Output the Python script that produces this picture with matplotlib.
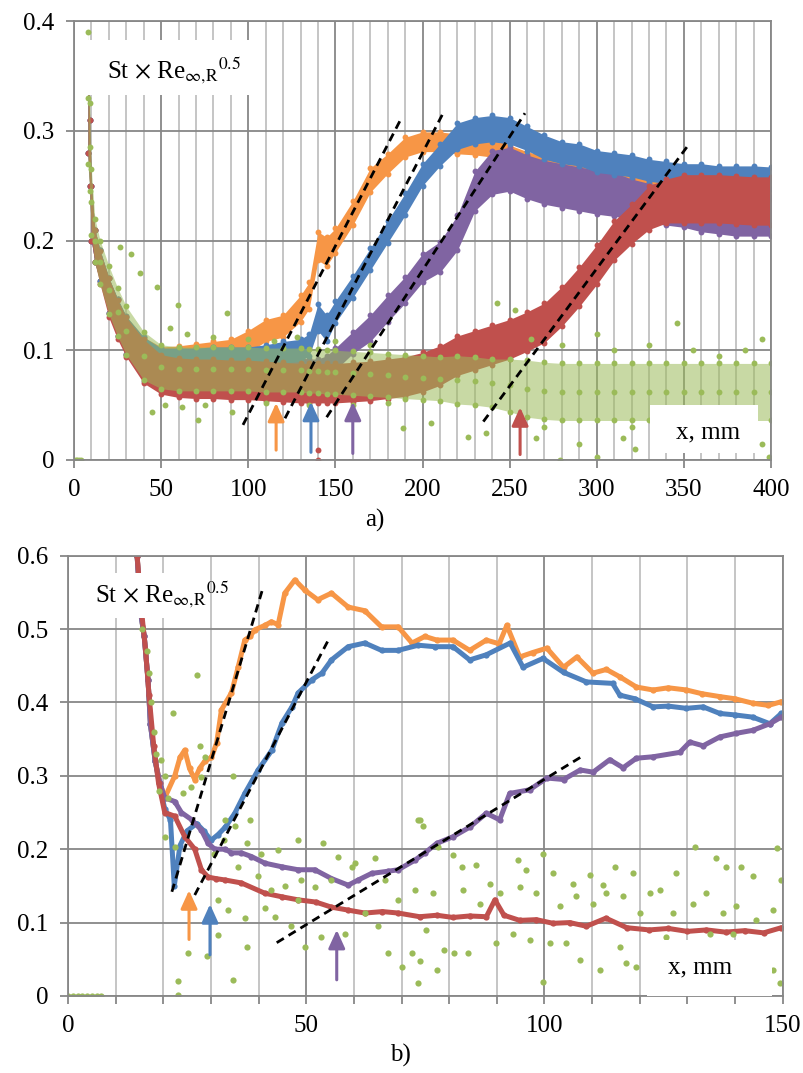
import numpy as np
import matplotlib.pyplot as plt
from matplotlib.patches import Rectangle

plt.rcParams['font.family'] = ['Liberation Serif', 'DejaVu Serif']
plt.rcParams['mathtext.fontset'] = 'stix'

BLUE, RED, GREEN, PURPLE, ORANGE = '#4F81BD', '#C0504D', '#9BBB59', '#8064A2', '#F79646'
GRID_MAJ, GRID_MIN = '#878787', '#C0C0C0'

# ---- panel a): x, mm  vs  St*Re^0.5  (mean of dot cloud and its half width)
a_x = [8, 9, 10, 12, 15, 20, 25, 30, 40, 50, 60, 70, 80, 90, 100, 110, 120, 130, 135, 140, 145, 150,
       160, 170, 180, 190, 200, 210, 220, 230, 240, 250, 260, 270, 280, 290, 300, 310, 320, 330, 340,
       350, 360, 370, 380, 390, 400]
a_orange = [0.33, 0.28, 0.225, 0.195, 0.177, 0.15, 0.13, 0.114, 0.095, 0.093, 0.094, 0.096, 0.098, 0.1,
            0.108, 0.118, 0.122, 0.138, 0.15, 0.195, 0.19, 0.2, 0.225, 0.255, 0.27, 0.285, 0.29, 0.29,
            0.288, 0.287, 0.285, 0.278, 0.272, 0.268, 0.265, 0.262, 0.258, 0.255, 0.252, 0.25, 0.249,
            0.248, 0.248, 0.248, 0.247, 0.247, 0.247]
a_blue = [0.33, 0.28, 0.225, 0.195, 0.177, 0.15, 0.13, 0.114, 0.095, 0.092, 0.092, 0.092, 0.093, 0.093,
          0.093, 0.095, 0.098, 0.1, 0.105, 0.13, 0.12, 0.135, 0.158, 0.183, 0.208, 0.233, 0.26, 0.278,
          0.295, 0.3, 0.302, 0.3, 0.293, 0.285, 0.28, 0.278, 0.272, 0.27, 0.268, 0.264, 0.262, 0.26,
          0.26, 0.258, 0.258, 0.258, 0.257]
a_purple = [0.33, 0.28, 0.225, 0.195, 0.177, 0.15, 0.13, 0.113, 0.09, 0.08, 0.078, 0.078, 0.078, 0.078,
            0.078, 0.077, 0.077, 0.077, 0.078, 0.08, 0.085, 0.092, 0.107, 0.12, 0.138, 0.155, 0.175,
            0.185, 0.207, 0.245, 0.262, 0.265, 0.258, 0.253, 0.25, 0.247, 0.244, 0.242, 0.238, 0.234,
            0.232, 0.23, 0.226, 0.224, 0.222, 0.222, 0.222]
a_red = [0.33, 0.28, 0.225, 0.195, 0.175, 0.148, 0.128, 0.112, 0.09, 0.078, 0.075, 0.074, 0.074, 0.073,
         0.073, 0.072, 0.071, 0.07, 0.07, 0.07, 0.07, 0.07, 0.071, 0.072, 0.074, 0.076, 0.08, 0.086,
         0.095, 0.1, 0.105, 0.11, 0.117, 0.125, 0.14, 0.158, 0.178, 0.2, 0.215, 0.23, 0.236, 0.238,
         0.238, 0.238, 0.237, 0.236, 0.236]
a_green = [0.33, 0.285, 0.235, 0.2, 0.18, 0.155, 0.135, 0.118, 0.095, 0.085, 0.083, 0.083, 0.083, 0.083,
           0.083, 0.082, 0.082, 0.082, 0.081, 0.081, 0.08, 0.08, 0.079, 0.078, 0.077, 0.076, 0.075,
           0.074, 0.073, 0.072, 0.07, 0.068, 0.065, 0.063, 0.062, 0.062, 0.062, 0.062, 0.062, 0.062,
           0.062, 0.062, 0.062, 0.062, 0.062, 0.062, 0.062]
a_spread_orange = [0.05, 0.03, 0.025, 0.015, 0.014, 0.016, 0.017, 0.017, 0.017, 0.01, 0.01, 0.01,
                   0.01, 0.01, 0.01, 0.01, 0.01, 0.012, 0.012, 0.013, 0.013, 0.011, 0.011, 0.011,
                   0.009, 0.009, 0.009, 0.009, 0.009, 0.009, 0.009, 0.009, 0.009, 0.009, 0.009, 0.009,
                   0.009, 0.009, 0.009, 0.009, 0.009, 0.009, 0.009, 0.009, 0.009, 0.009, 0.009]
a_spread_blue = [0.05, 0.03, 0.025, 0.015, 0.014, 0.016, 0.017, 0.017, 0.017, 0.01, 0.01, 0.01,
                 0.01, 0.01, 0.01, 0.01, 0.01, 0.01, 0.01, 0.012, 0.012, 0.01, 0.01, 0.01,
                 0.01, 0.01, 0.01, 0.01, 0.012, 0.012, 0.012, 0.012, 0.011, 0.011, 0.01, 0.01,
                 0.01, 0.01, 0.01, 0.01, 0.01, 0.01, 0.01, 0.01, 0.01, 0.01, 0.01]
a_spread_purple = [0.05, 0.03, 0.025, 0.015, 0.014, 0.016, 0.017, 0.017, 0.018, 0.016, 0.016, 0.016,
                   0.016, 0.016, 0.016, 0.016, 0.016, 0.016, 0.014, 0.012, 0.01, 0.01, 0.01, 0.012,
                   0.012, 0.012, 0.013, 0.014, 0.016, 0.018, 0.02, 0.02, 0.02, 0.02, 0.02, 0.02,
                   0.02, 0.02, 0.018, 0.018, 0.018, 0.018, 0.018, 0.018, 0.018, 0.018, 0.018]
a_spread_red = [0.05, 0.03, 0.025, 0.015, 0.015, 0.018, 0.018, 0.018, 0.02, 0.018, 0.018, 0.018,
                0.018, 0.018, 0.018, 0.018, 0.018, 0.018, 0.018, 0.018, 0.018, 0.018, 0.018, 0.018,
                0.018, 0.018, 0.018, 0.018, 0.018, 0.018, 0.018, 0.018, 0.018, 0.018, 0.018, 0.018,
                0.018, 0.018, 0.018, 0.02, 0.02, 0.022, 0.022, 0.022, 0.022, 0.022, 0.022]
a_spread_green = [0.06, 0.04, 0.03, 0.02, 0.02, 0.022, 0.022, 0.022, 0.022, 0.02, 0.02, 0.02, 0.02,
                  0.02, 0.02, 0.02, 0.02, 0.02, 0.02, 0.02, 0.02, 0.02, 0.02, 0.02, 0.02,
                  0.02, 0.02, 0.02, 0.022, 0.022, 0.022, 0.024, 0.026, 0.026, 0.026, 0.026, 0.026,
                  0.026, 0.026, 0.026, 0.026, 0.026, 0.026, 0.026, 0.026, 0.026, 0.026]
# loose green dots outside the band
a_green_out_x = [0, 1, 2, 3, 4, 26.4, 32.7, 37.9, 47.6, 59.7, 87.7, 128, 44.8, 71, 90.7, 189, 243, 253,
                 346, 279, 300, 322, 399, 205, 226, 236.6, 55, 65, 80, 100, 115, 150, 170, 52, 62, 75,
                 110, 135, 160, 180, 262, 280, 300, 310, 330, 355, 370, 385, 395, 265, 290, 315, 340,
                 360, 380, 395, 270, 320, 350]
a_green_out_y = [0, 0, 0, 0, 0, 0.194, 0.188, 0.17, 0.158, 0.141, 0.134, 0.112, 0.044, 0.036, 0.044,
                 0.029, 0.143, 0.137, 0.125, 0.0, 0.003, 0.01, 0.003, 0.034, 0.021, 0.025, 0.12, 0.115,
                 0.112, 0.11, 0.108, 0.108, 0.105, 0.05, 0.048, 0.05, 0.052, 0.05, 0.05, 0.052, 0.11,
                 0.105, 0.115, 0.1, 0.105, 0.1, 0.095, 0.1, 0.11, 0.02, 0.015, 0.02, 0.018, 0.025, 0.02,
                 0.015, 0.03, 0.03, 0.028]
a_red_out_x = [140, 140]
a_red_out_y = [0.009, 0.0]
a_fit_x = [[97.0, 188.2], [121.1, 211.8], [145.0, 258.8], [234.9, 353.5]]
a_fit_y = [[0.032, 0.3125], [0.038, 0.316], [0.039, 0.316], [0.035, 0.289]]
a_arrow_x = [116, 136, 160, 256]
a_arrow_y0 = [0.009, 0.007, 0.006, 0.005]
a_arrow_y1 = [0.052, 0.053, 0.053, 0.048]
a_arrow_c = [ORANGE, BLUE, PURPLE, RED]

# ---- panel b)
b_orange_x = [14.5, 15.3, 16, 16.8, 17.3, 18.3, 19.3, 20.3, 22.4, 23.5, 24.5, 25.5, 26.6, 27.6, 28.7,
              30.1, 31.2, 32.2, 34.3, 35.7, 37.1, 38.2, 39.2, 41.3, 42.7, 44.1, 45.5, 47.6, 49.7, 52.4,
              55.3, 58.8, 62.3, 65.8, 69.3, 72.2, 74.9, 77.4, 80.8, 84.3, 87.8, 90.5, 92.1, 94.8, 97.5,
              100.5, 104, 106.8, 110.2, 113, 115.8, 119.3, 122.8, 126, 129.8, 133, 136.8, 140, 143.7,
              147, 149.7]
b_orange_y = [0.6, 0.52, 0.49, 0.43, 0.37, 0.32, 0.29, 0.27, 0.3, 0.325, 0.335, 0.31, 0.295, 0.31, 0.32,
              0.325, 0.345, 0.39, 0.413, 0.448, 0.485, 0.49, 0.499, 0.505, 0.51, 0.506, 0.549, 0.567,
              0.553, 0.54, 0.549, 0.53, 0.525, 0.503, 0.503, 0.481, 0.49, 0.485, 0.485, 0.471, 0.485,
              0.48, 0.505, 0.462, 0.468, 0.474, 0.448, 0.462, 0.44, 0.445, 0.435, 0.421, 0.417, 0.42,
              0.417, 0.412, 0.408, 0.405, 0.399, 0.396, 0.401]
b_blue_x = [14.5, 15.3, 16, 16.8, 17.3, 18.3, 19.3, 20.3, 21.5, 22.3, 23.5, 25, 27, 28.5, 30, 31.5, 33,
            35, 37.1, 39.9, 42.8, 44.9, 47, 48.3, 51.2, 53.3, 55.3, 58.8, 62.3, 65.8, 69.3, 73.5, 77,
            80.8, 84.3, 87.8, 92.8, 95.5, 99.7, 104, 108.8, 114.3, 115.8, 119, 122.8, 126, 129.8, 133.3,
            136.8, 140, 143.7, 147.3, 149.7]
b_blue_y = [0.6, 0.52, 0.49, 0.43, 0.37, 0.32, 0.285, 0.255, 0.24, 0.15, 0.205, 0.225, 0.235, 0.225,
            0.212, 0.22, 0.23, 0.249, 0.276, 0.308, 0.335, 0.372, 0.394, 0.413, 0.431, 0.44, 0.458,
            0.476, 0.481, 0.471, 0.471, 0.478, 0.476, 0.476, 0.458, 0.465, 0.481, 0.448, 0.46, 0.441,
            0.428, 0.426, 0.41, 0.405, 0.394, 0.395, 0.392, 0.394, 0.385, 0.383, 0.38, 0.371, 0.385]
b_purple_x = [14.5, 15.3, 16, 16.8, 17.3, 18.3, 19.3, 20.3, 22.4, 23.8, 26, 28, 29.4, 30.8, 33, 34.3,
              36.4, 38.5, 41.3, 44.9, 48.3, 51.8, 55.3, 58.8, 60.9, 63.7, 67.2, 69.3, 72.8, 74.9, 77.4,
              80.8, 84.3, 87.8, 90.6, 92.7, 96.9, 100.5, 104, 107.5, 110.2, 113.7, 116.5, 119.3, 122.8,
              128.4, 130.5, 133.3, 136.8, 140.3, 143.7, 147.3, 149.7]
b_purple_y = [0.6, 0.52, 0.49, 0.43, 0.37, 0.32, 0.29, 0.27, 0.265, 0.25, 0.24, 0.226, 0.208, 0.2, 0.2,
              0.195, 0.195, 0.19, 0.181, 0.176, 0.172, 0.172, 0.16, 0.151, 0.158, 0.167, 0.17, 0.172,
              0.185, 0.195, 0.208, 0.217, 0.23, 0.249, 0.24, 0.276, 0.281, 0.297, 0.295, 0.308, 0.305,
              0.322, 0.311, 0.324, 0.326, 0.332, 0.346, 0.341, 0.353, 0.358, 0.362, 0.371, 0.38]
b_red_x = [14.5, 15.5, 16.3, 17, 18, 19, 20.3, 22.4, 24.5, 26.6, 28, 29.4, 31, 33, 36.4, 41.3, 45, 48.3,
           52, 55.3, 58.8, 62.3, 66, 69.3, 73.8, 77.4, 80.8, 84.3, 87.8, 89.6, 91.5, 94.8, 98.3, 101.8,
           105.3, 108.8, 112.9, 117.3, 122, 126, 130, 134, 138, 142, 146, 149.7]
b_red_y = [0.6, 0.52, 0.47, 0.41, 0.34, 0.29, 0.25, 0.245, 0.217, 0.2, 0.172, 0.162, 0.16, 0.158, 0.154,
           0.14, 0.135, 0.131, 0.128, 0.121, 0.117, 0.113, 0.115, 0.113, 0.108, 0.11, 0.107, 0.109,
           0.108, 0.131, 0.11, 0.103, 0.104, 0.099, 0.1, 0.095, 0.106, 0.093, 0.09, 0.092, 0.088, 0.09,
           0.087, 0.089, 0.086, 0.093]
b_green_x = [0, 1, 2, 3, 4, 5, 6, 7,
             15.5, 16.5, 17, 17.5, 18, 18.5, 19.6, 20.3, 19, 21, 27.0, 22.1, 27.7, 28.7, 34.7, 24.2,
             28, 25.9, 22.4, 20.3, 30.6, 32.8, 38.2,
             33, 35, 37.5, 40.6, 44.1, 48.3, 53.6, 56.7, 60.2, 64.4, 73.5, 74.5,
             31.5, 33.6, 37.1, 41.3, 43.4, 46.9, 49.7, 53.2, 58.1, 62.3, 65.1, 67.2, 70, 72.1, 73.5,
             25.2, 29.1, 34.7, 23.1, 23, 37.5, 31.5, 48.3, 51.8, 55.3, 59.5, 35.7, 39.9, 42.7, 45.5,
             49, 69.3, 66.5, 72.8,
             73.9, 77.6, 80.8, 82.6, 85.7, 88.5, 94.5, 96.2, 99.7, 101.8, 106, 109.5, 112.3, 114.8,
             118.6, 122.1, 127.7, 131.5, 136, 138.1, 141.2, 143.7, 148.9, 149.6,
             76.6, 82.9, 86.4, 90.6, 94.8, 98.3, 103.2, 106.7, 110.2, 113, 116.5, 120, 124.2, 127,
             131.2, 134, 137.5, 140.3, 144.5, 148,
             75.2, 79, 81.1, 83.9, 89.9, 93.4, 96.9, 101.1, 104.6, 107.4, 111.6, 115.8, 117.2, 119.3,
             122.8, 125.6, 129.8, 134.7, 139.6, 143.1, 148, 149.5, 99.7, 73.9, 77.4]
b_green_y = [0, 0, 0, 0, 0, 0, 0, 0,
             0.5, 0.47, 0.44, 0.4, 0.36, 0.33, 0.322, 0.3, 0.28, 0.27, 0.437, 0.385, 0.34, 0.326, 0.3,
             0.276, 0.299, 0.285, 0.203, 0.217, 0.194, 0.212, 0.24,
             0.24, 0.231, 0.208, 0.194, 0.199, 0.212, 0.208, 0.19, 0.181, 0.188, 0.24, 0.231,
             0.131, 0.117, 0.106, 0.12, 0.108, 0.095, 0.067, 0.081, 0.085, 0.113, 0.095, 0.058, 0.04,
             0.058, 0.017,
             0.058, 0.054, 0.022, 0.02, 0.001, 0.067, 0.083, 0.131, 0.149, 0.158, 0.176, 0.176, 0.163,
             0.145, 0.15, 0.158, 0.131, 0.158, 0.145,
             0.24, 0.203, 0.192, 0.176, 0.178, 0.153, 0.185, 0.172, 0.194, 0.167, 0.153, 0.165, 0.151,
             0.176, 0.167, 0.14, 0.167, 0.203, 0.188, 0.176, 0.176, 0.163, 0.201, 0.158,
             0.14, 0.145, 0.126, 0.14, 0.149, 0.14, 0.122, 0.136, 0.126, 0.14, 0.136, 0.113, 0.145,
             0.113, 0.126, 0.14, 0.113, 0.122, 0.104, 0.117,
             0.09, 0.063, 0.058, 0.058, 0.072, 0.085, 0.076, 0.072, 0.072, 0.049, 0.036, 0.067, 0.045,
             0.04, 0.067, 0.081, 0.067, 0.085, 0.085, 0.072, 0.036, 0.018, 0.019, 0.047, 0.036]
b_fit_x = [[21.8, 41.0], [26.6, 55.0], [43.8, 108.0]]
b_fit_y = [[0.142, 0.558], [0.1376, 0.4895], [0.0726, 0.327]]
b_arrow_x = [25.4, 29.8, 56.4]
b_arrow_y0 = [0.077, 0.056, 0.022]
b_arrow_y1 = [0.144, 0.125, 0.09]
b_arrow_c = [ORANGE, BLUE, PURPLE]

LABEL = r'St $\times$ Re$_{\infty{,}\mathrm{R}}$$^{0.5}$'
FS = 18


def band(ax, x, m, s, color, z, alpha=1.0):
    x = np.array(x)
    m = np.array(m)
    s = np.array(s)
    ax.fill_between(x, m - s, m + s, color=color, lw=0, alpha=alpha, zorder=z)
    rows = (m - s, m, m + s) if alpha < 1 else (m - s, m + s)
    for yy in rows:
        ax.scatter(x, yy, s=18, color=color, lw=0, zorder=z)


def style(ax, xmax, ymax, minor_ticks):
    ax.set_axisbelow(True)
    ax.grid(which='minor', axis='x', color=GRID_MIN, lw=1.3)
    ax.grid(which='major', axis='both', color=GRID_MAJ, lw=1.3)
    for sp in ax.spines.values():
        sp.set_color(GRID_MAJ)
        sp.set_linewidth(1.3)
    ax.tick_params(which='major', length=6, color=GRID_MAJ, width=1.3, labelsize=FS, pad=8)
    ax.tick_params(which='minor', length=6 if minor_ticks else 0, color=GRID_MAJ, width=1.3)
    ax.set_xlim(0, xmax)
    ax.set_ylim(0, ymax)
    ax.set_yticklabels(['0'] + ['%.1f' % v for v in ax.get_yticks()[1:]])


def box(ax, x0, y0, w, h, tx, ty, text):
    ax.add_patch(Rectangle((x0, y0), w, h, transform=ax.transAxes, facecolor='white',
                           edgecolor='none', zorder=10))
    ax.text(tx, ty, text, transform=ax.transAxes, fontsize=FS, zorder=11, va='baseline')


fig = plt.figure(figsize=(8.04, 10.73), dpi=100)

# ---------------- a)
ax1 = fig.add_axes([0.092, 0.5713, 0.867, 0.4091])
ax1.set_xticks(range(0, 401, 50))
ax1.set_xticks(range(0, 401, 10), minor=True)
ax1.set_yticks([0, 0.1, 0.2, 0.3, 0.4])
style(ax1, 400, 0.4, False)

band(ax1, a_x, a_orange, a_spread_orange, ORANGE, 2)
band(ax1, a_x, a_purple, a_spread_purple, PURPLE, 2.1)
band(ax1, a_x, a_blue, a_spread_blue, BLUE, 2.2)
band(ax1, a_x, a_red, a_spread_red, RED, 2.3)
band(ax1, a_x, a_green, a_spread_green, GREEN, 2.4, alpha=0.55)
ax1.scatter(a_red_out_x, a_red_out_y, s=18, color=RED, lw=0, zorder=2.3)
ax1.scatter(a_green_out_x, a_green_out_y, s=18, color=GREEN, lw=0, zorder=2.4)

for fx, fy in zip(a_fit_x, a_fit_y):
    ax1.plot(fx, fy, color='black', lw=2, ls=(0, (3, 2)), zorder=4)
for ax_, y0, y1, c in zip(a_arrow_x, a_arrow_y0, a_arrow_y1, a_arrow_c):
    ax1.annotate('', xy=(ax_, y1), xytext=(ax_, y0),
                 arrowprops=dict(arrowstyle='-|>,head_length=0.55,head_width=0.25', color=c,
                                 lw=2.2, shrinkA=0, shrinkB=0, mutation_scale=20), zorder=5)

box(ax1, 0.0158, 0.8314, 0.2367, 0.1253, 0.047, 0.87, LABEL)
box(ax1, 0.826, 0.016, 0.155, 0.109, 0.864, 0.05, 'x, mm')

# ---------------- b)
ax2 = fig.add_axes([0.0846, 0.0718, 0.8889, 0.4103])
ax2.set_xticks(range(0, 151, 50))
ax2.set_xticks(range(0, 151, 10), minor=True)
ax2.set_yticks([0, 0.1, 0.2, 0.3, 0.4, 0.5, 0.6])
style(ax2, 150, 0.6, True)

for bx, by, c, z in [(b_orange_x, b_orange_y, ORANGE, 2), (b_blue_x, b_blue_y, BLUE, 2.1),
                     (b_purple_x, b_purple_y, PURPLE, 2.2), (b_red_x, b_red_y, RED, 2.3)]:
    ax2.plot(bx, by, color=c, lw=3.6, marker='o', ms=4.5, mew=0, zorder=z,
             solid_joinstyle='round', solid_capstyle='round')
ax2.scatter(b_green_x, b_green_y, s=20, color=GREEN, lw=0, zorder=2.4)

for fx, fy in zip(b_fit_x, b_fit_y):
    ax2.plot(fx, fy, color='black', lw=2, ls=(0, (3, 2)), zorder=4)
for ax_, y0, y1, c in zip(b_arrow_x, b_arrow_y0, b_arrow_y1, b_arrow_c):
    ax2.annotate('', xy=(ax_, y1), xytext=(ax_, y0),
                 arrowprops=dict(arrowstyle='-|>,head_length=0.55,head_width=0.25', color=c,
                                 lw=2.2, shrinkA=0, shrinkB=0, mutation_scale=20), zorder=5)

box(ax2, 0.0098, 0.8585, 0.1889, 0.1022, 0.0378, 0.895, LABEL)
box(ax2, 0.81, 0.0, 0.175, 0.127, 0.8395, 0.052, 'x, mm')

fig.text(375 / 804, 1 - 520 / 1073, 'a)', fontsize=FS, ha='center', va='center')
fig.text(400 / 804, 1 - 1055 / 1073, 'b)', fontsize=FS, ha='center', va='center')

fig.savefig('out.png', dpi=100)
